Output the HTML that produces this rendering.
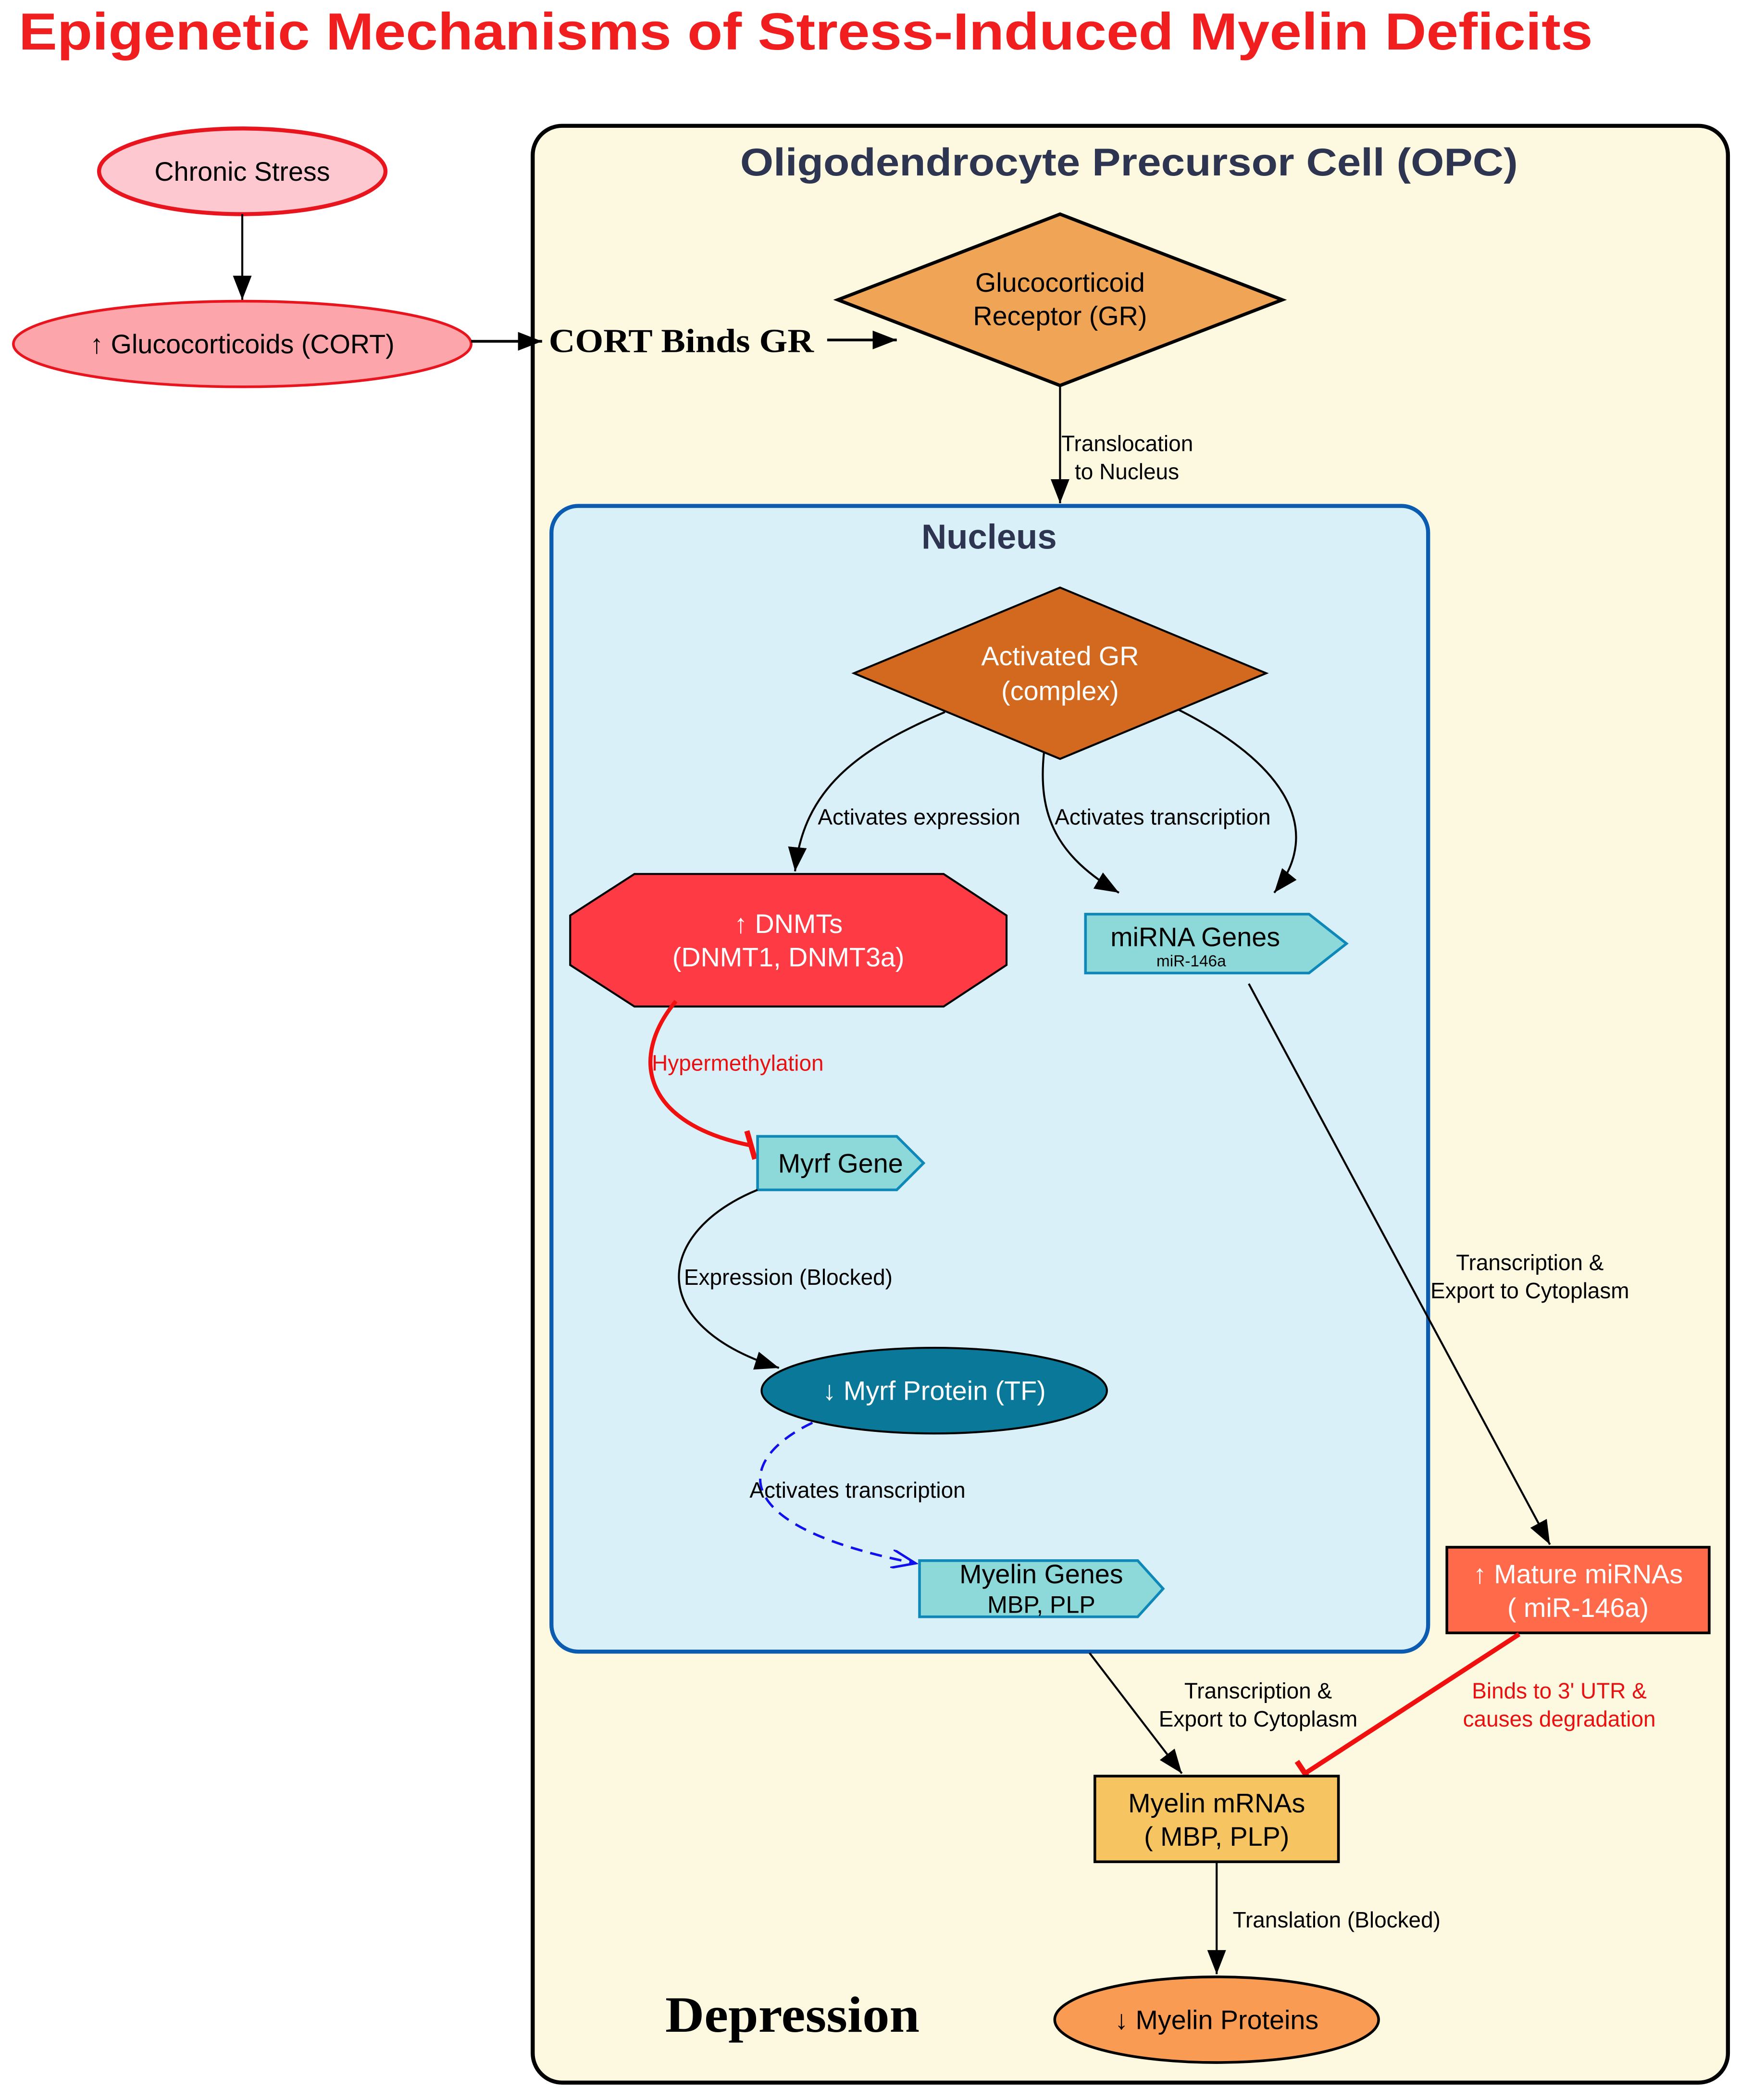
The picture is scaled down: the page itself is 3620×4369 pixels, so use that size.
<!DOCTYPE html>
<html><head><meta charset="utf-8"><style>
html,body{margin:0;padding:0;background:#fff}
svg{display:block}
text{font-family:"Liberation Sans",sans-serif}
.n{font-size:20px}
.e{font-size:16.5px}
</style></head><body>
<svg width="3620" height="4369" viewBox="0 0 1300 1569" xmlns="http://www.w3.org/2000/svg">
<defs>
<marker id="ab" markerWidth="20" markerHeight="14" refX="18" refY="7" orient="auto" markerUnits="userSpaceOnUse"><path d="M0,0 L18,7 L0,14 z" fill="#000"/></marker>
<marker id="blue" markerWidth="20" markerHeight="14" refX="18" refY="7" orient="auto" markerUnits="userSpaceOnUse"><path d="M0,0 L18,7 L0,14" fill="none" stroke="#1010ee" stroke-width="1.8"/></marker>
</defs>
<text x="14" y="37" font-size="39" font-weight="bold" fill="#f01e1e" textLength="1176" lengthAdjust="spacingAndGlyphs">Epigenetic Mechanisms of Stress-Induced Myelin Deficits</text>

<rect x="398" y="94" width="893" height="1462" rx="22" fill="#fdf8e0" stroke="#000" stroke-width="3"/>
<text x="553" y="131" font-size="29" font-weight="bold" fill="#2e3550" textLength="581" lengthAdjust="spacingAndGlyphs">Oligodendrocyte Precursor Cell (OPC)</text>

<rect x="412" y="378" width="655" height="856" rx="20" fill="#daf0f8" stroke="#0b5cb0" stroke-width="3"/>
<text x="739" y="410" font-size="26" font-weight="bold" fill="#2e3550" text-anchor="middle">Nucleus</text>

<ellipse cx="181" cy="128" rx="107" ry="32" fill="#fdc8cf" stroke="#e8141e" stroke-width="3"/>
<text x="181" y="135" class="n" text-anchor="middle">Chronic Stress</text>
<line x1="181" y1="160" x2="181" y2="224" stroke="#000" stroke-width="1.5" marker-end="url(#ab)"/>
<ellipse cx="181" cy="257" rx="171" ry="32" fill="#fca6ab" stroke="#e8141e" stroke-width="2"/>
<text x="181" y="264" class="n" text-anchor="middle">↑ Glucocorticoids (CORT)</text>
<line x1="352" y1="255" x2="405" y2="255" stroke="#000" stroke-width="2" marker-end="url(#ab)"/>
<text x="410" y="263" font-size="25" font-weight="bold" style="font-family:'Liberation Serif',serif" textLength="198" lengthAdjust="spacingAndGlyphs">CORT Binds GR</text>
<line x1="618" y1="254" x2="670" y2="254" stroke="#000" stroke-width="2" marker-end="url(#ab)"/>

<polygon points="792,160 958,224 792,288 626,224" fill="#f0a456" stroke="#000" stroke-width="2.5"/>
<text x="792" y="218" class="n" text-anchor="middle">Glucocorticoid</text>
<text x="792" y="243" class="n" text-anchor="middle">Receptor (GR)</text>
<line x1="792" y1="288" x2="792" y2="376" stroke="#000" stroke-width="1.5" marker-end="url(#ab)"/>
<text x="793" y="337" class="e">Translocation</text>
<text x="803" y="358" class="e">to Nucleus</text>

<polygon points="792,439 946,503 792,567 638,503" fill="#d2691e" stroke="#000" stroke-width="1.5"/>
<text x="792" y="497" class="n" fill="#fff" text-anchor="middle">Activated GR</text>
<text x="792" y="523" class="n" fill="#fff" text-anchor="middle">(complex)</text>

<path d="M706,532 C640,560 600,590 594,651" fill="none" stroke="#000" stroke-width="1.5" marker-end="url(#ab)"/>
<text x="611" y="616" class="e">Activates expression</text>
<path d="M780,562 C775,610 790,640 836,667" fill="none" stroke="#000" stroke-width="1.5" marker-end="url(#ab)"/>
<text x="788" y="616" class="e">Activates transcription</text>
<path d="M880,530 C960,570 990,620 952,667" fill="none" stroke="#000" stroke-width="1.5" marker-end="url(#ab)"/>

<polygon points="474,653 705,653 752,684 752,721 705,752 474,752 426,721 426,684" fill="#fe3a44" stroke="#000" stroke-width="1.5"/>
<text x="589" y="697" class="n" fill="#fff" text-anchor="middle">↑ DNMTs</text>
<text x="589" y="722" class="n" fill="#fff" text-anchor="middle">(DNMT1, DNMT3a)</text>

<polygon points="811,683 978,683 1006,705 978,727 811,727" fill="#8dd8d8" stroke="#0e88b8" stroke-width="2"/>
<text x="893" y="707" class="n" text-anchor="middle">miRNA Genes</text>
<text x="890" y="722" font-size="12" text-anchor="middle">miR-146a</text>

<path d="M505,748 C470,790 480,840 562,856" fill="none" stroke="#f01010" stroke-width="3"/>
<line x1="558" y1="845" x2="564" y2="866" stroke="#f01010" stroke-width="4"/>
<text x="487" y="800" class="e" fill="#e81010">Hypermethylation</text>

<polygon points="566,849 670,849 690,869 670,889 566,889" fill="#8dd8d8" stroke="#0e88b8" stroke-width="2"/>
<text x="628" y="876" class="n" text-anchor="middle">Myrf Gene</text>

<path d="M566,889 C490,920 480,990 582,1022" fill="none" stroke="#000" stroke-width="1.5" marker-end="url(#ab)"/>
<text x="511" y="960" class="e">Expression (Blocked)</text>

<ellipse cx="698" cy="1039" rx="129" ry="32" fill="#0a7898" stroke="#000" stroke-width="1.5"/>
<text x="698" y="1046" class="n" fill="#fff" text-anchor="middle">↓ Myrf Protein (TF)</text>

<path d="M607,1063 C550,1090 540,1140 684,1168" fill="none" stroke="#1010ee" stroke-width="1.8" stroke-dasharray="9,6" marker-end="url(#blue)"/>
<text x="560" y="1119" class="e">Activates transcription</text>

<polygon points="687,1166 850,1166 869,1187 850,1208 687,1208" fill="#8dd8d8" stroke="#0e88b8" stroke-width="2"/>
<text x="778" y="1183" class="n" text-anchor="middle">Myelin Genes</text>
<text x="778" y="1205" font-size="18" text-anchor="middle">MBP, PLP</text>

<line x1="933" y1="735" x2="1158" y2="1154" stroke="#000" stroke-width="1.5" marker-end="url(#ab)"/>
<text x="1143" y="949" class="e" text-anchor="middle">Transcription &amp;</text>
<text x="1143" y="970" class="e" text-anchor="middle">Export to Cytoplasm</text>

<rect x="1081" y="1156" width="196" height="64" fill="#fe6a4a" stroke="#000" stroke-width="2"/>
<text x="1179" y="1183" class="n" fill="#fff" text-anchor="middle">↑ Mature miRNAs</text>
<text x="1179" y="1208" class="n" fill="#fff" text-anchor="middle">( miR-146a)</text>

<line x1="1135" y1="1221" x2="975" y2="1325" stroke="#f01010" stroke-width="3.5"/>
<line x1="969" y1="1316" x2="981" y2="1334" stroke="#f01010" stroke-width="4"/>
<text x="1165" y="1269" class="e" fill="#e81010" text-anchor="middle">Binds to 3' UTR &amp;</text>
<text x="1165" y="1290" class="e" fill="#e81010" text-anchor="middle">causes degradation</text>

<line x1="814" y1="1235" x2="883" y2="1325" stroke="#000" stroke-width="1.5" marker-end="url(#ab)"/>
<text x="940" y="1269" class="e" text-anchor="middle">Transcription &amp;</text>
<text x="940" y="1290" class="e" text-anchor="middle">Export to Cytoplasm</text>

<rect x="818" y="1327" width="182" height="64" fill="#f7c462" stroke="#000" stroke-width="2"/>
<text x="909" y="1354" class="n" text-anchor="middle">Myelin mRNAs</text>
<text x="909" y="1379" class="n" text-anchor="middle">( MBP, PLP)</text>

<line x1="909" y1="1391" x2="909" y2="1475" stroke="#000" stroke-width="1.5" marker-end="url(#ab)"/>
<text x="921" y="1440" class="e">Translation (Blocked)</text>

<ellipse cx="909" cy="1509" rx="121" ry="32" fill="#f99b52" stroke="#000" stroke-width="2"/>
<text x="909" y="1516" class="n" text-anchor="middle">↓ Myelin Proteins</text>

<text x="497" y="1518" font-size="38" font-weight="bold" style="font-family:'Liberation Serif',serif" textLength="190" lengthAdjust="spacingAndGlyphs">Depression</text>
</svg>
</body></html>
